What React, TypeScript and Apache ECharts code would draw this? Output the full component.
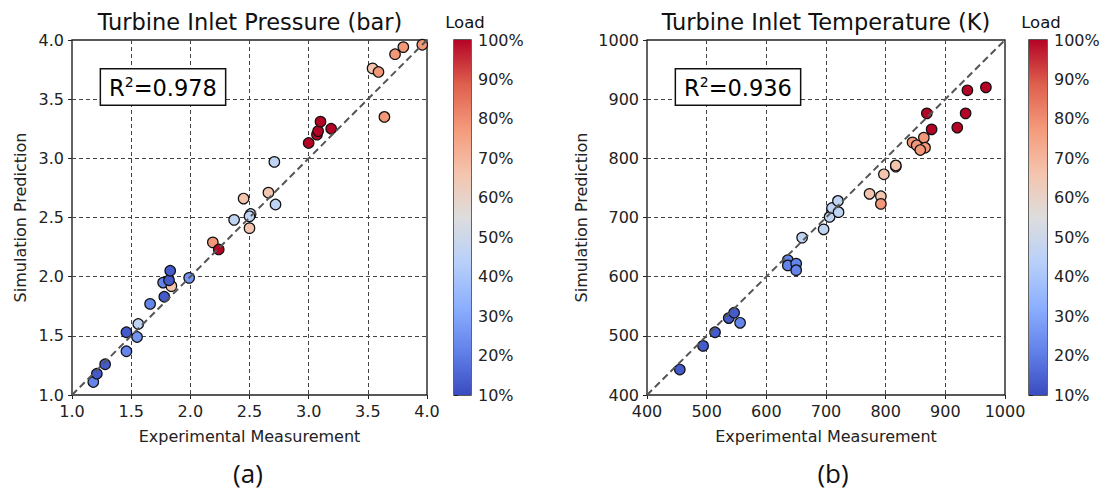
import React, { useEffect, useRef } from "react";
import * as echarts from "echarts";

// Turbine inlet pressure (bar): measured vs simulated, with engine load (%)
const pressureMeasured = [
  1.18, 1.21, 1.28, 1.46, 1.46, 1.55, 1.56, 1.66, 1.78, 1.77, 1.84, 1.82, 1.83, 1.99,
  2.19, 2.24, 2.37, 2.45, 2.51, 2.5, 2.5, 2.66, 2.72, 2.71, 3.0, 3.07, 3.08, 3.1, 3.19,
  3.54, 3.59, 3.64, 3.73, 3.8, 3.96,
];
const pressurePredicted = [
  1.11, 1.18, 1.26, 1.37, 1.53, 1.49, 1.6, 1.77, 1.83, 1.95, 1.92, 1.97, 2.05, 1.99,
  2.29, 2.23, 2.48, 2.66, 2.53, 2.51, 2.41, 2.71, 2.61, 2.97, 3.13, 3.2, 3.23, 3.31, 3.25,
  3.76, 3.73, 3.35, 3.88, 3.94, 3.96,
];
const pressureLoad = [
  22, 13, 13, 22, 13, 26, 46, 22, 13, 22, 66, 13, 13, 26,
  78, 100, 46, 66, 46, 46, 66, 66, 46, 46, 100, 100, 100, 100, 100,
  66, 78, 78, 78, 78, 78,
];

// Turbine inlet temperature (K): measured vs simulated, with engine load (%)
const temperatureMeasured = [
  455, 494, 514, 537, 546, 556, 636, 636, 650, 650, 660, 696, 706, 710, 720, 721,
  773, 792, 792, 797, 817, 817, 845, 852, 864, 866, 858, 869, 877, 920, 934, 937, 968,
];
const temperaturePredicted = [
  443, 483, 506, 530, 539, 522, 628, 619, 622, 611, 666, 680, 701, 716, 728, 709,
  740, 736, 723, 773, 786, 788, 827, 822, 835, 818, 814, 876, 849, 852, 876, 915, 920,
];
const temperatureLoad = [
  13, 13, 13, 13, 13, 22, 22, 22, 22, 22, 46, 46, 46, 46, 46, 46,
  66, 66, 78, 66, 66, 66, 78, 78, 78, 78, 78, 100, 100, 100, 100, 100, 100,
];

const pressureTicks = { min: 1, max: 4, interval: 0.5 };
const temperatureTicks = { min: 400, max: 1000, interval: 100 };
const loadTicks = { min: 10, max: 100, interval: 10 };

const panelTitles = ["Turbine Inlet Pressure (bar)", "Turbine Inlet Temperature (K)"];
const rSquared = ["0.978", "0.936"];
const panelTags = ["(a)", "(b)"];

// matplotlib "coolwarm"
const coolwarm = [
  "#3b4cc0", "#6282ea", "#8db0fe", "#b8d0f9", "#dddddd",
  "#f5c4ad", "#f49a7b", "#de604d", "#b40426",
];

const FONT = "DejaVu Sans";
const INK = "#222";
const TICK_FONT = 16;

const scatterAxis = (
  gridIndex: number,
  t: { min: number; max: number; interval: number },
  name: string,
  nameGap: number,
  decimals: number
) => ({
  gridIndex,
  type: "value",
  min: t.min,
  max: t.max,
  interval: t.interval,
  name,
  nameLocation: "middle",
  nameGap,
  nameTextStyle: { fontFamily: FONT, fontSize: TICK_FONT, color: INK },
  axisLine: { show: false },
  axisTick: { show: true, length: 4, lineStyle: { color: INK, width: 1 } },
  axisLabel: {
    fontFamily: FONT,
    fontSize: TICK_FONT,
    color: INK,
    margin: 8,
    formatter: (v: number) => v.toFixed(decimals),
  },
  splitLine: {
    show: true,
    showMinLine: false,
    showMaxLine: false,
    lineStyle: { color: "#444", width: 1, type: [4, 3] },
  },
});

const colorbarAxes = (gridIndex: number) => ({
  x: { gridIndex, type: "value", min: 0, max: 1, show: false },
  y: {
    gridIndex,
    type: "value",
    position: "right",
    min: loadTicks.min,
    max: loadTicks.max,
    interval: loadTicks.interval,
    axisLine: { show: false },
    axisTick: { show: true, length: 4, lineStyle: { color: INK } },
    axisLabel: { fontFamily: FONT, fontSize: TICK_FONT, color: INK, margin: 7, formatter: "{value}%" },
    splitLine: { show: false },
  },
});

const colorbarSeries = (axisIndex: number) => ({
  type: "custom",
  xAxisIndex: axisIndex,
  yAxisIndex: axisIndex,
  data: [[loadTicks.min, loadTicks.max]],
  renderItem: (_params: any, api: any) => {
    const top = api.coord([0, api.value(1)]);
    const bottom = api.coord([1, api.value(0)]);
    return {
      type: "rect",
      shape: { x: top[0], y: top[1], width: bottom[0] - top[0], height: bottom[1] - top[1] },
      style: {
        fill: new echarts.graphic.LinearGradient(
          0, 1, 0, 0,
          coolwarm.map((c, i) => ({ offset: i / (coolwarm.length - 1), color: c }))
        ),
      },
    };
  },
  z: 1,
});

const scatterSeries = (axisIndex: number, xs: number[], ys: number[], loads: number[]) => ({
  type: "scatter",
  xAxisIndex: axisIndex,
  yAxisIndex: axisIndex,
  data: xs.map((x, i) => [x, ys[i], loads[i]]),
  symbolSize: 10.5,
  itemStyle: { borderColor: "#111", borderWidth: 1.2, opacity: 1 },
  z: 3,
});

const diagonalSeries = (axisIndex: number, t: { min: number; max: number }) => ({
  type: "line",
  xAxisIndex: axisIndex,
  yAxisIndex: axisIndex,
  data: [[t.min, t.min], [t.max, t.max]],
  symbol: "none",
  lineStyle: { color: "#555", width: 2, type: [7, 4] },
  z: 5,
  silent: true,
});

const boxedR2 = (cx: number, cy: number, value: string) => ({
  type: "text",
  x: cx,
  y: cy,
  style: {
    text: `{r|R}{s|2}{r|=${value}}`,
    align: "center",
    verticalAlign: "middle",
    backgroundColor: "#fff",
    borderColor: "#111",
    borderWidth: 1.5,
    padding: [5, 8, 4, 8],
    rich: {
      r: { fontFamily: FONT, fontSize: 22.5, color: "#111", lineHeight: 26 },
      s: { fontFamily: FONT, fontSize: 14, color: "#111", lineHeight: 26, verticalAlign: "top", padding: [0, 0, 8, 0] },
    },
  },
  z: 20,
});

const label = (x: number, y: number, text: string, fontSize: number, family = FONT) => ({
  type: "text",
  x,
  y,
  style: { text, align: "center", verticalAlign: "middle", fontFamily: family, fontSize, fill: "#111" },
  z: 20,
});

export default function App() {
  const ref = useRef<HTMLDivElement>(null);

  useEffect(() => {
    if (!ref.current) return;
    const chart = echarts.init(ref.current, undefined, { renderer: "svg" });
    const cbL = colorbarAxes(1);
    const cbR = colorbarAxes(3);
    const frame = { show: true, borderColor: INK, borderWidth: 1.4, backgroundColor: "transparent" };

    chart.setOption({
      animation: false,
      backgroundColor: "#fff",
      grid: [
        { left: 72, top: 40, width: 355, height: 355, ...frame },
        { left: 454, top: 40, width: 17, height: 355, ...frame },
        { left: 647, top: 40, width: 358, height: 355, ...frame },
        { left: 1029, top: 40, width: 18, height: 355, ...frame },
      ],
      xAxis: [
        scatterAxis(0, pressureTicks, "Experimental Measurement", 33, 1),
        cbL.x,
        scatterAxis(2, temperatureTicks, "Experimental Measurement", 33, 0),
        cbR.x,
      ],
      yAxis: [
        scatterAxis(0, pressureTicks, "Simulation Prediction", 44, 1),
        cbL.y,
        scatterAxis(2, temperatureTicks, "Simulation Prediction", 58, 0),
        cbR.y,
      ],
      visualMap: [
        {
          type: "continuous",
          show: false,
          seriesIndex: [0, 3],
          dimension: 2,
          min: loadTicks.min,
          max: loadTicks.max,
          inRange: { color: coolwarm },
        },
      ],
      series: [
        scatterSeries(0, pressureMeasured, pressurePredicted, pressureLoad),
        diagonalSeries(0, pressureTicks),
        colorbarSeries(1),
        scatterSeries(2, temperatureMeasured, temperaturePredicted, temperatureLoad),
        diagonalSeries(2, temperatureTicks),
        colorbarSeries(3),
      ],
      graphic: [
        label(250, 22, panelTitles[0], 22.5),
        label(826, 22, panelTitles[1], 22.5),
        label(465, 22, "Load", 16.5),
        label(1041, 22, "Load", 16.5),
        label(248, 473, panelTags[0], 26, "Open Sans"),
        label(833, 473, panelTags[1], 26, "Open Sans"),
        boxedR2(163, 87, rSquared[0]),
        boxedR2(738, 87, rSquared[1]),
      ],
    });
    return () => chart.dispose();
  }, []);

  return (
    <div
      ref={ref}
      style={{ position: "absolute", left: 0, top: 0, width: 1110, height: 493 }}
    />
  );
}
